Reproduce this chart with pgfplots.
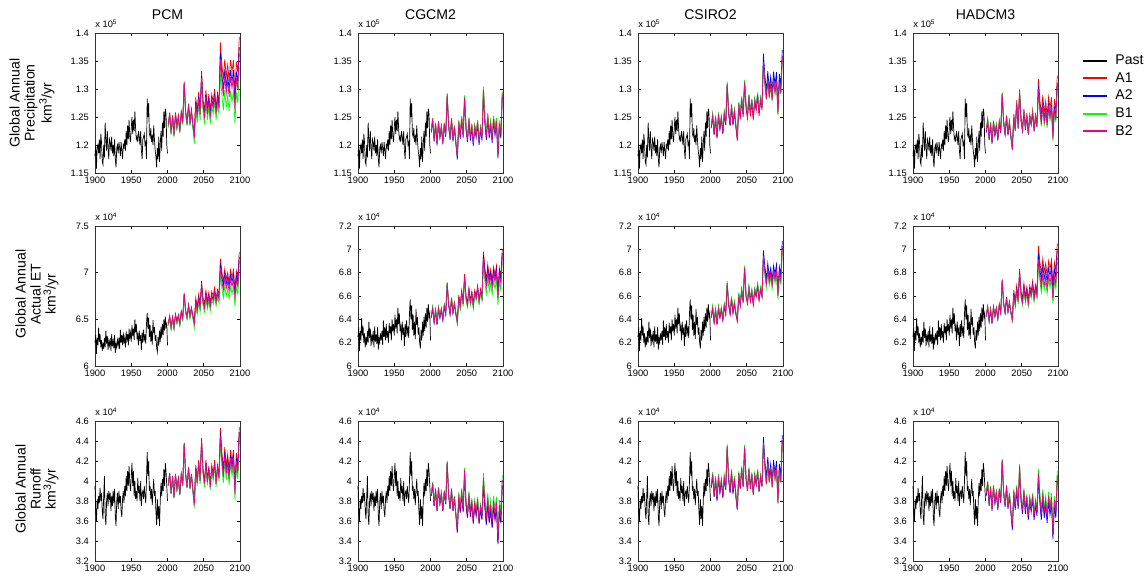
\documentclass[border=0pt]{standalone}
\usepackage{fontspec}
\setmainfont{Liberation Sans}
\usepackage{pgfplots}
\pgfplotsset{compat=1.18}
\usepackage{pgfplotstable}

\newcommand{\tickfont}{\fontsize{5.3}{6}\selectfont}
\newcommand{\titlefont}{\fontsize{8}{9}\selectfont}
\newcommand{\labfont}{\fontsize{8}{8.6}\selectfont}

% past series (same in every column of a row)
\pgfplotstableread{
yr v
1900 1.180
1901 1.200
1902 1.158
1903 1.195
1904 1.200
1905 1.185
1906 1.210
1907 1.175
1908 1.220
1909 1.205
1910 1.170
1911 1.165
1912 1.200
1913 1.178
1914 1.240
1915 1.210
1916 1.190
1917 1.225
1918 1.195
1919 1.175
1920 1.210
1921 1.205
1922 1.190
1923 1.215
1924 1.185
1925 1.200
1926 1.180
1927 1.210
1928 1.175
1929 1.160
1930 1.195
1931 1.200
1932 1.185
1933 1.205
1934 1.195
1935 1.180
1936 1.205
1937 1.190
1938 1.175
1939 1.200
1940 1.195
1941 1.210
1942 1.190
1943 1.225
1944 1.200
1945 1.235
1946 1.210
1947 1.245
1948 1.215
1949 1.205
1950 1.230
1951 1.250
1952 1.220
1953 1.245
1954 1.225
1955 1.260
1956 1.230
1957 1.210
1958 1.215
1959 1.205
1960 1.225
1961 1.215
1962 1.200
1963 1.225
1964 1.190
1965 1.175
1966 1.210
1967 1.215
1968 1.220
1969 1.200
1970 1.205
1971 1.175
1972 1.283
1973 1.250
1974 1.275
1975 1.220
1976 1.215
1977 1.230
1978 1.205
1979 1.215
1980 1.200
1981 1.235
1982 1.210
1983 1.190
1984 1.180
1985 1.160
1986 1.195
1987 1.175
1988 1.215
1989 1.170
1990 1.200
1991 1.225
1992 1.190
1993 1.240
1994 1.215
1995 1.260
1996 1.230
1997 1.265
1998 1.255
1999 1.200
2000 1.185
}\pastP

\pgfplotstableread{
yr v
1900 6.25
1901 6.33
1902 6.13
1903 6.30
1904 6.22
1905 6.41
1906 6.26
1907 6.34
1908 6.20
1909 6.28
1910 6.16
1911 6.25
1912 6.18
1913 6.30
1914 6.20
1915 6.38
1916 6.24
1917 6.32
1918 6.17
1919 6.27
1920 6.22
1921 6.30
1922 6.16
1923 6.34
1924 6.21
1925 6.27
1926 6.19
1927 6.33
1928 6.14
1929 6.24
1930 6.20
1931 6.28
1932 6.22
1933 6.30
1934 6.18
1935 6.39
1936 6.25
1937 6.33
1938 6.22
1939 6.36
1940 6.24
1941 6.30
1942 6.20
1943 6.37
1944 6.28
1945 6.34
1946 6.22
1947 6.40
1948 6.30
1949 6.36
1950 6.26
1951 6.44
1952 6.32
1953 6.40
1954 6.28
1955 6.50
1956 6.36
1957 6.45
1958 6.30
1959 6.34
1960 6.22
1961 6.38
1962 6.27
1963 6.33
1964 6.17
1965 6.36
1966 6.25
1967 6.39
1968 6.28
1969 6.32
1970 6.24
1971 6.45
1972 6.57
1973 6.40
1974 6.52
1975 6.31
1976 6.44
1977 6.26
1978 6.38
1979 6.23
1980 6.49
1981 6.35
1982 6.42
1983 6.27
1984 6.33
1985 6.20
1986 6.15
1987 6.31
1988 6.22
1989 6.38
1990 6.26
1991 6.42
1992 6.30
1993 6.45
1994 6.33
1995 6.50
1996 6.38
1997 6.53
1998 6.42
1999 6.45
2000 6.22
}\pastE

\pgfplotstableread{
yr v
1900 3.95
1901 3.70
1902 3.60
1903 3.82
1904 3.72
1905 3.85
1906 3.78
1907 3.93
1908 3.80
1909 3.88
1910 3.70
1911 3.62
1912 3.85
1913 4.05
1914 3.65
1915 3.56
1916 3.80
1917 3.88
1918 3.75
1919 3.90
1920 3.82
1921 3.88
1922 3.70
1923 3.85
1924 3.75
1925 3.90
1926 3.78
1927 3.92
1928 3.65
1929 3.55
1930 3.80
1931 3.88
1932 3.72
1933 3.90
1934 3.78
1935 3.85
1936 3.70
1937 3.64
1938 3.82
1939 3.90
1940 3.78
1941 3.95
1942 3.85
1943 4.05
1944 3.90
1945 4.10
1946 3.95
1947 4.15
1948 3.98
1949 3.90
1950 4.05
1951 4.18
1952 3.95
1953 4.10
1954 3.85
1955 4.00
1956 3.82
1957 3.90
1958 3.80
1959 4.03
1960 3.88
1961 3.95
1962 3.80
1963 4.00
1964 3.75
1965 3.88
1966 3.90
1967 3.82
1968 3.95
1969 3.85
1970 3.78
1971 4.00
1972 4.29
1973 4.05
1974 4.20
1975 3.90
1976 3.95
1977 3.82
1978 3.92
1979 3.76
1980 3.90
1981 4.02
1982 3.85
1983 3.90
1984 3.70
1985 3.56
1986 3.82
1987 3.62
1988 3.75
1989 3.55
1990 3.80
1991 3.98
1992 3.85
1993 4.02
1994 3.90
1995 4.12
1996 3.95
1997 4.18
1998 4.10
1999 3.95
2000 3.80
}\pastR

% scenario runs, precipitation (x 10^5 km3/yr)
\pgfplotstableread{
yr A1 A2 B1 B2
2001 1.237 1.233 1.231 1.235
2003 1.258 1.254 1.252 1.256
2005 1.224 1.220 1.218 1.222
2007 1.253 1.249 1.247 1.251
2009 1.220 1.216 1.214 1.218
2011 1.258 1.254 1.252 1.256
2013 1.234 1.230 1.228 1.232
2015 1.253 1.249 1.247 1.251
2017 1.227 1.223 1.221 1.225
2019 1.260 1.256 1.254 1.258
2021 1.242 1.238 1.236 1.240
2023 1.313 1.309 1.307 1.311
2025 1.261 1.257 1.255 1.259
2027 1.240 1.236 1.234 1.238
2029 1.274 1.270 1.268 1.272
2031 1.240 1.236 1.234 1.238
2033 1.264 1.260 1.258 1.262
2035 1.237 1.233 1.231 1.235
2037 1.224 1.216 1.202 1.212
2039 1.285 1.277 1.263 1.273
2041 1.261 1.253 1.239 1.249
2043 1.295 1.287 1.273 1.283
2045 1.266 1.258 1.244 1.254
2047 1.332 1.324 1.310 1.320
2049 1.281 1.273 1.259 1.269
2051 1.262 1.254 1.240 1.250
2053 1.298 1.290 1.276 1.286
2055 1.267 1.259 1.245 1.255
2057 1.291 1.283 1.269 1.279
2059 1.260 1.252 1.238 1.248
2061 1.291 1.283 1.269 1.279
2063 1.277 1.269 1.255 1.265
2065 1.300 1.292 1.278 1.288
2067 1.267 1.259 1.245 1.255
2069 1.293 1.285 1.271 1.281
2071 1.277 1.269 1.255 1.265
2073 1.383 1.365 1.328 1.353
2075 1.344 1.326 1.289 1.314
2077 1.317 1.299 1.262 1.287
2079 1.353 1.335 1.298 1.323
2081 1.322 1.304 1.267 1.292
2083 1.343 1.325 1.288 1.313
2085 1.316 1.298 1.261 1.286
2087 1.352 1.334 1.297 1.322
2089 1.331 1.313 1.276 1.301
2091 1.352 1.334 1.297 1.322
2093 1.293 1.275 1.238 1.263
2095 1.349 1.331 1.294 1.319
2097 1.330 1.312 1.275 1.300
2099 1.393 1.375 1.338 1.363
}\futPa

\pgfplotstableread{
yr A1 A2 B1 B2
2001 1.227 1.222 1.226 1.225
2003 1.248 1.243 1.247 1.246
2005 1.211 1.206 1.210 1.209
2007 1.240 1.235 1.239 1.238
2009 1.204 1.199 1.203 1.202
2011 1.243 1.238 1.242 1.241
2013 1.217 1.212 1.216 1.215
2015 1.235 1.230 1.234 1.233
2017 1.206 1.201 1.205 1.204
2019 1.240 1.235 1.239 1.238
2021 1.219 1.214 1.218 1.217
2023 1.292 1.287 1.291 1.290
2025 1.237 1.232 1.236 1.235
2027 1.214 1.209 1.213 1.212
2029 1.248 1.243 1.247 1.246
2031 1.211 1.206 1.210 1.209
2033 1.235 1.230 1.234 1.233
2035 1.206 1.201 1.205 1.204
2037 1.181 1.174 1.181 1.178
2039 1.244 1.237 1.244 1.241
2041 1.218 1.211 1.218 1.215
2043 1.251 1.244 1.251 1.248
2045 1.220 1.213 1.220 1.217
2047 1.288 1.281 1.288 1.285
2049 1.233 1.226 1.233 1.230
2051 1.212 1.205 1.212 1.209
2053 1.249 1.242 1.249 1.246
2055 1.215 1.208 1.215 1.212
2057 1.238 1.231 1.238 1.235
2059 1.205 1.198 1.205 1.202
2061 1.236 1.229 1.236 1.233
2063 1.220 1.213 1.220 1.217
2065 1.244 1.237 1.244 1.241
2067 1.207 1.200 1.207 1.204
2069 1.233 1.226 1.233 1.230
2071 1.215 1.208 1.215 1.212
2073 1.302 1.293 1.304 1.298
2075 1.247 1.238 1.249 1.243
2077 1.218 1.209 1.220 1.214
2079 1.255 1.246 1.257 1.251
2081 1.221 1.212 1.223 1.217
2083 1.242 1.233 1.244 1.238
2085 1.213 1.204 1.215 1.209
2087 1.250 1.241 1.252 1.246
2089 1.226 1.217 1.228 1.222
2091 1.247 1.238 1.249 1.243
2093 1.185 1.176 1.187 1.181
2095 1.242 1.233 1.244 1.238
2097 1.221 1.212 1.223 1.217
2099 1.294 1.285 1.296 1.290
}\futPb

\pgfplotstableread{
yr A1 A2 B1 B2
2001 1.230 1.231 1.236 1.233
2003 1.251 1.252 1.257 1.254
2005 1.218 1.219 1.224 1.221
2007 1.247 1.248 1.253 1.250
2009 1.212 1.213 1.218 1.215
2011 1.252 1.253 1.258 1.255
2013 1.228 1.229 1.234 1.231
2015 1.247 1.248 1.253 1.250
2017 1.220 1.221 1.226 1.223
2019 1.255 1.256 1.261 1.258
2021 1.235 1.236 1.241 1.238
2023 1.307 1.308 1.313 1.310
2025 1.256 1.257 1.262 1.259
2027 1.234 1.235 1.240 1.237
2029 1.268 1.269 1.274 1.271
2031 1.235 1.236 1.241 1.238
2033 1.259 1.260 1.265 1.262
2035 1.232 1.233 1.238 1.235
2037 1.207 1.213 1.215 1.211
2039 1.269 1.275 1.277 1.273
2041 1.245 1.251 1.253 1.249
2043 1.279 1.285 1.287 1.283
2045 1.250 1.256 1.258 1.254
2047 1.308 1.314 1.316 1.312
2049 1.265 1.271 1.273 1.269
2051 1.247 1.253 1.255 1.251
2053 1.283 1.289 1.291 1.287
2055 1.251 1.257 1.259 1.255
2057 1.275 1.281 1.283 1.279
2059 1.244 1.250 1.252 1.248
2061 1.276 1.282 1.284 1.280
2063 1.261 1.267 1.269 1.265
2065 1.286 1.292 1.294 1.290
2067 1.252 1.258 1.260 1.256
2069 1.278 1.284 1.286 1.282
2071 1.262 1.268 1.270 1.266
2073 1.352 1.363 1.346 1.348
2075 1.313 1.324 1.307 1.309
2077 1.286 1.297 1.280 1.282
2079 1.321 1.332 1.315 1.317
2081 1.289 1.300 1.283 1.285
2083 1.311 1.322 1.305 1.307
2085 1.284 1.295 1.278 1.280
2087 1.320 1.331 1.314 1.316
2089 1.297 1.308 1.291 1.293
2091 1.319 1.330 1.313 1.315
2093 1.259 1.270 1.253 1.255
2095 1.316 1.327 1.310 1.312
2097 1.296 1.307 1.290 1.292
2099 1.359 1.370 1.353 1.355
}\futPc

\pgfplotstableread{
yr A1 A2 B1 B2
2001 1.225 1.222 1.227 1.225
2003 1.245 1.242 1.247 1.245
2005 1.212 1.209 1.214 1.212
2007 1.239 1.236 1.241 1.239
2009 1.205 1.202 1.207 1.205
2011 1.242 1.239 1.244 1.242
2013 1.219 1.216 1.221 1.219
2015 1.236 1.233 1.238 1.236
2017 1.211 1.208 1.213 1.211
2019 1.242 1.239 1.244 1.242
2021 1.224 1.221 1.226 1.224
2023 1.292 1.289 1.294 1.292
2025 1.242 1.239 1.244 1.242
2027 1.221 1.218 1.223 1.221
2029 1.252 1.249 1.254 1.252
2031 1.220 1.217 1.222 1.220
2033 1.242 1.239 1.244 1.242
2035 1.216 1.213 1.218 1.216
2037 1.198 1.191 1.194 1.193
2039 1.255 1.248 1.251 1.250
2041 1.232 1.225 1.228 1.227
2043 1.280 1.273 1.276 1.275
2045 1.236 1.229 1.232 1.231
2047 1.299 1.292 1.295 1.294
2049 1.249 1.242 1.245 1.244
2051 1.231 1.224 1.227 1.226
2053 1.265 1.258 1.261 1.260
2055 1.234 1.227 1.230 1.229
2057 1.257 1.250 1.253 1.252
2059 1.225 1.218 1.221 1.220
2061 1.255 1.248 1.251 1.250
2063 1.242 1.235 1.238 1.237
2065 1.263 1.256 1.259 1.258
2067 1.231 1.224 1.227 1.226
2069 1.255 1.248 1.251 1.250
2071 1.239 1.232 1.235 1.234
2073 1.318 1.305 1.296 1.300
2075 1.281 1.268 1.259 1.263
2077 1.255 1.242 1.233 1.237
2079 1.289 1.276 1.267 1.271
2081 1.258 1.245 1.236 1.240
2083 1.278 1.265 1.256 1.260
2085 1.253 1.240 1.231 1.235
2087 1.286 1.273 1.264 1.268
2089 1.266 1.253 1.244 1.248
2091 1.285 1.272 1.263 1.267
2093 1.228 1.215 1.206 1.210
2095 1.282 1.269 1.260 1.264
2097 1.263 1.250 1.241 1.245
2099 1.324 1.311 1.302 1.306
}\futPd

% actual ET (x 10^4 km3/yr)
\pgfplotstableread{
yr A1 A2 B1 B2
2001 6.46 6.44 6.43 6.45
2003 6.54 6.52 6.51 6.53
2005 6.42 6.40 6.39 6.41
2007 6.53 6.51 6.50 6.52
2009 6.42 6.40 6.39 6.41
2011 6.56 6.54 6.53 6.55
2013 6.48 6.46 6.45 6.47
2015 6.55 6.53 6.52 6.54
2017 6.46 6.44 6.43 6.45
2019 6.59 6.57 6.56 6.58
2021 6.52 6.50 6.49 6.51
2023 6.78 6.76 6.75 6.77
2025 6.60 6.58 6.57 6.59
2027 6.53 6.51 6.50 6.52
2029 6.66 6.64 6.63 6.65
2031 6.54 6.52 6.51 6.53
2033 6.63 6.61 6.60 6.62
2035 6.54 6.52 6.51 6.53
2037 6.50 6.46 6.41 6.45
2039 6.73 6.69 6.64 6.68
2041 6.64 6.60 6.55 6.59
2043 6.77 6.73 6.68 6.72
2045 6.67 6.63 6.58 6.62
2047 6.91 6.87 6.82 6.86
2049 6.73 6.69 6.64 6.68
2051 6.67 6.63 6.58 6.62
2053 6.81 6.77 6.72 6.76
2055 6.70 6.66 6.61 6.65
2057 6.79 6.75 6.70 6.74
2059 6.68 6.64 6.59 6.63
2061 6.80 6.76 6.71 6.75
2063 6.75 6.71 6.66 6.70
2065 6.84 6.80 6.75 6.79
2067 6.73 6.69 6.64 6.68
2069 6.82 6.78 6.73 6.77
2071 6.77 6.73 6.68 6.72
2073 7.15 7.10 6.97 7.05
2075 7.01 6.96 6.83 6.91
2077 6.91 6.86 6.73 6.81
2079 7.04 6.99 6.86 6.94
2081 6.93 6.88 6.75 6.83
2083 7.00 6.95 6.82 6.90
2085 6.90 6.85 6.72 6.80
2087 7.03 6.98 6.85 6.93
2089 6.95 6.90 6.77 6.85
2091 7.03 6.98 6.85 6.93
2093 6.82 6.77 6.64 6.72
2095 7.02 6.97 6.84 6.92
2097 6.95 6.90 6.77 6.85
2099 7.22 7.17 7.04 7.12
}\futEa

\pgfplotstableread{
yr A1 A2 B1 B2
2001 6.42 6.41 6.43 6.42
2003 6.50 6.49 6.51 6.50
2005 6.38 6.37 6.39 6.38
2007 6.48 6.47 6.49 6.48
2009 6.36 6.35 6.37 6.36
2011 6.50 6.49 6.51 6.50
2013 6.42 6.41 6.43 6.42
2015 6.49 6.48 6.50 6.49
2017 6.40 6.39 6.41 6.40
2019 6.52 6.51 6.53 6.52
2021 6.45 6.44 6.46 6.45
2023 6.71 6.70 6.72 6.71
2025 6.53 6.52 6.54 6.53
2027 6.45 6.44 6.46 6.45
2029 6.58 6.57 6.59 6.58
2031 6.46 6.45 6.47 6.46
2033 6.54 6.53 6.55 6.54
2035 6.45 6.44 6.46 6.45
2037 6.39 6.37 6.35 6.37
2039 6.61 6.59 6.57 6.59
2041 6.52 6.50 6.48 6.50
2043 6.65 6.63 6.61 6.63
2045 6.55 6.53 6.51 6.53
2047 6.79 6.77 6.75 6.77
2049 6.60 6.58 6.56 6.58
2051 6.54 6.52 6.50 6.52
2053 6.67 6.65 6.63 6.65
2055 6.56 6.54 6.52 6.54
2057 6.64 6.62 6.60 6.62
2059 6.53 6.51 6.49 6.51
2061 6.65 6.63 6.61 6.63
2063 6.60 6.58 6.56 6.58
2065 6.69 6.67 6.65 6.67
2067 6.57 6.55 6.53 6.55
2069 6.66 6.64 6.62 6.64
2071 6.60 6.58 6.56 6.58
2073 6.98 6.95 6.86 6.92
2075 6.84 6.81 6.72 6.78
2077 6.74 6.71 6.62 6.68
2079 6.87 6.84 6.75 6.81
2081 6.76 6.73 6.64 6.70
2083 6.83 6.80 6.71 6.77
2085 6.73 6.70 6.61 6.67
2087 6.85 6.82 6.73 6.79
2089 6.78 6.75 6.66 6.72
2091 6.86 6.83 6.74 6.80
2093 6.64 6.61 6.52 6.58
2095 6.84 6.81 6.72 6.78
2097 6.77 6.74 6.65 6.71
2099 7.00 6.97 6.88 6.94
}\futEb

\pgfplotstableread{
yr A1 A2 B1 B2
2001 6.41 6.42 6.44 6.42
2003 6.49 6.50 6.52 6.50
2005 6.37 6.38 6.40 6.38
2007 6.47 6.48 6.50 6.48
2009 6.35 6.36 6.38 6.36
2011 6.49 6.50 6.52 6.50
2013 6.41 6.42 6.44 6.42
2015 6.48 6.49 6.51 6.49
2017 6.39 6.40 6.42 6.40
2019 6.51 6.52 6.54 6.52
2021 6.44 6.45 6.47 6.45
2023 6.70 6.71 6.73 6.71
2025 6.52 6.53 6.55 6.53
2027 6.44 6.45 6.47 6.45
2029 6.57 6.58 6.60 6.58
2031 6.45 6.46 6.48 6.46
2033 6.53 6.54 6.56 6.54
2035 6.44 6.45 6.47 6.45
2037 6.38 6.40 6.41 6.39
2039 6.60 6.62 6.63 6.61
2041 6.51 6.53 6.54 6.52
2043 6.64 6.66 6.67 6.65
2045 6.54 6.56 6.57 6.55
2047 6.83 6.85 6.86 6.84
2049 6.59 6.61 6.62 6.60
2051 6.53 6.55 6.56 6.54
2053 6.66 6.68 6.69 6.67
2055 6.55 6.57 6.58 6.56
2057 6.63 6.65 6.66 6.64
2059 6.52 6.54 6.55 6.53
2061 6.64 6.66 6.67 6.65
2063 6.59 6.61 6.62 6.60
2065 6.68 6.70 6.71 6.69
2067 6.56 6.58 6.59 6.57
2069 6.65 6.67 6.68 6.66
2071 6.59 6.61 6.62 6.60
2073 6.95 6.99 6.91 6.94
2075 6.81 6.85 6.77 6.80
2077 6.71 6.75 6.67 6.70
2079 6.84 6.88 6.80 6.83
2081 6.73 6.77 6.69 6.72
2083 6.80 6.84 6.76 6.79
2085 6.70 6.74 6.66 6.69
2087 6.82 6.86 6.78 6.81
2089 6.75 6.79 6.71 6.74
2091 6.83 6.87 6.79 6.82
2093 6.61 6.65 6.57 6.60
2095 6.81 6.85 6.77 6.80
2097 6.74 6.78 6.70 6.73
2099 7.03 7.07 6.99 7.02
}\futEc

\pgfplotstableread{
yr A1 A2 B1 B2
2001 6.43 6.42 6.43 6.43
2003 6.51 6.50 6.51 6.51
2005 6.39 6.38 6.39 6.39
2007 6.49 6.48 6.49 6.49
2009 6.37 6.36 6.37 6.37
2011 6.51 6.50 6.51 6.51
2013 6.43 6.42 6.43 6.43
2015 6.50 6.49 6.50 6.50
2017 6.41 6.40 6.41 6.41
2019 6.53 6.52 6.53 6.53
2021 6.46 6.45 6.46 6.46
2023 6.74 6.73 6.74 6.74
2025 6.54 6.53 6.54 6.54
2027 6.46 6.45 6.46 6.46
2029 6.59 6.58 6.59 6.59
2031 6.47 6.46 6.47 6.47
2033 6.55 6.54 6.55 6.55
2035 6.46 6.45 6.46 6.46
2037 6.43 6.40 6.37 6.39
2039 6.65 6.62 6.59 6.61
2041 6.56 6.53 6.50 6.52
2043 6.69 6.66 6.63 6.65
2045 6.59 6.56 6.53 6.55
2047 6.83 6.80 6.77 6.79
2049 6.64 6.61 6.58 6.60
2051 6.58 6.55 6.52 6.54
2053 6.71 6.68 6.65 6.67
2055 6.60 6.57 6.54 6.56
2057 6.68 6.65 6.62 6.64
2059 6.57 6.54 6.51 6.53
2061 6.69 6.66 6.63 6.65
2063 6.64 6.61 6.58 6.60
2065 6.73 6.70 6.67 6.69
2067 6.61 6.58 6.55 6.57
2069 6.70 6.67 6.64 6.66
2071 6.64 6.61 6.58 6.60
2073 7.03 6.97 6.87 6.91
2075 6.89 6.83 6.73 6.77
2077 6.79 6.73 6.63 6.67
2079 6.92 6.86 6.76 6.80
2081 6.81 6.75 6.65 6.69
2083 6.88 6.82 6.72 6.76
2085 6.78 6.72 6.62 6.66
2087 6.90 6.84 6.74 6.78
2089 6.83 6.77 6.67 6.71
2091 6.91 6.85 6.75 6.79
2093 6.69 6.63 6.53 6.57
2095 6.89 6.83 6.73 6.77
2097 6.82 6.76 6.66 6.70
2099 7.05 6.99 6.89 6.93
}\futEd

% runoff (x 10^4 km3/yr)
\pgfplotstableread{
yr A1 A2 B1 B2
2001 3.96 3.95 3.95 3.96
2003 4.08 4.07 4.07 4.08
2005 3.88 3.87 3.87 3.88
2007 4.05 4.04 4.04 4.05
2009 3.84 3.83 3.83 3.84
2011 4.07 4.06 4.06 4.07
2013 3.92 3.91 3.91 3.92
2015 4.03 4.02 4.02 4.03
2017 3.87 3.86 3.86 3.87
2019 4.07 4.06 4.06 4.07
2021 3.96 3.95 3.95 3.96
2023 4.38 4.37 4.37 4.38
2025 4.07 4.06 4.06 4.07
2027 3.94 3.93 3.93 3.94
2029 4.14 4.13 4.13 4.14
2031 3.93 3.92 3.92 3.93
2033 4.07 4.06 4.06 4.07
2035 3.91 3.90 3.90 3.91
2037 3.79 3.76 3.73 3.76
2039 4.16 4.13 4.10 4.13
2041 4.01 3.98 3.95 3.98
2043 4.21 4.18 4.15 4.18
2045 4.03 4.00 3.97 4.00
2047 4.43 4.40 4.37 4.40
2049 4.12 4.09 4.06 4.09
2051 4.00 3.97 3.94 3.97
2053 4.21 4.18 4.15 4.18
2055 4.02 3.99 3.96 3.99
2057 4.15 4.12 4.09 4.12
2059 3.97 3.94 3.91 3.94
2061 4.16 4.13 4.10 4.13
2063 4.07 4.04 4.01 4.04
2065 4.21 4.18 4.15 4.18
2067 4.00 3.97 3.94 3.97
2069 4.16 4.13 4.10 4.13
2071 4.06 4.03 4.00 4.03
2073 4.53 4.48 4.39 4.45
2075 4.29 4.24 4.15 4.21
2077 4.12 4.07 3.98 4.04
2079 4.34 4.29 4.20 4.26
2081 4.15 4.10 4.01 4.07
2083 4.27 4.22 4.13 4.19
2085 4.10 4.05 3.96 4.02
2087 4.31 4.26 4.17 4.23
2089 4.19 4.14 4.05 4.11
2091 4.31 4.26 4.17 4.23
2093 3.95 3.90 3.81 3.87
2095 4.28 4.23 4.14 4.20
2097 4.16 4.11 4.02 4.08
2099 4.54 4.49 4.40 4.46
}\futRa

\pgfplotstableread{
yr A1 A2 B1 B2
2001 3.85 3.85 3.87 3.86
2003 3.97 3.97 3.99 3.98
2005 3.75 3.75 3.77 3.76
2007 3.91 3.91 3.93 3.92
2009 3.70 3.70 3.72 3.71
2011 3.92 3.92 3.94 3.93
2013 3.77 3.77 3.79 3.78
2015 3.87 3.87 3.89 3.88
2017 3.70 3.70 3.72 3.71
2019 3.89 3.89 3.91 3.90
2021 3.77 3.77 3.79 3.78
2023 4.18 4.18 4.20 4.19
2025 3.86 3.86 3.88 3.87
2027 3.72 3.72 3.74 3.73
2029 3.91 3.91 3.93 3.92
2031 3.70 3.70 3.72 3.71
2033 3.83 3.83 3.85 3.84
2035 3.66 3.66 3.68 3.67
2037 3.48 3.49 3.54 3.52
2039 3.83 3.84 3.89 3.87
2041 3.68 3.69 3.74 3.72
2043 3.87 3.88 3.93 3.91
2045 3.69 3.70 3.75 3.73
2047 4.07 4.08 4.13 4.11
2049 3.75 3.76 3.81 3.79
2051 3.63 3.64 3.69 3.67
2053 3.84 3.85 3.90 3.88
2055 3.64 3.65 3.70 3.68
2057 3.77 3.78 3.83 3.81
2059 3.57 3.58 3.63 3.61
2061 3.75 3.76 3.81 3.79
2063 3.65 3.66 3.71 3.69
2065 3.78 3.79 3.84 3.82
2067 3.57 3.58 3.63 3.61
2069 3.71 3.72 3.77 3.75
2071 3.61 3.62 3.67 3.65
2073 3.97 3.98 4.08 4.03
2075 3.73 3.74 3.84 3.79
2077 3.56 3.57 3.67 3.62
2079 3.77 3.78 3.88 3.83
2081 3.58 3.59 3.69 3.64
2083 3.70 3.71 3.81 3.76
2085 3.53 3.54 3.64 3.59
2087 3.74 3.75 3.85 3.80
2089 3.61 3.62 3.72 3.67
2091 3.73 3.74 3.84 3.79
2093 3.37 3.38 3.48 3.43
2095 3.70 3.71 3.81 3.76
2097 3.58 3.59 3.69 3.64
2099 3.95 3.96 4.06 4.01
}\futRb

\pgfplotstableread{
yr A1 A2 B1 B2
2001 3.94 3.93 3.97 3.95
2003 4.06 4.05 4.09 4.07
2005 3.85 3.84 3.88 3.86
2007 4.02 4.01 4.05 4.03
2009 3.81 3.80 3.84 3.82
2011 4.04 4.03 4.07 4.05
2013 3.89 3.88 3.92 3.90
2015 4.00 3.99 4.03 4.01
2017 3.84 3.83 3.87 3.85
2019 4.03 4.02 4.06 4.04
2021 3.92 3.91 3.95 3.93
2023 4.34 4.33 4.37 4.35
2025 4.02 4.01 4.05 4.03
2027 3.89 3.88 3.92 3.90
2029 4.09 4.08 4.12 4.10
2031 3.88 3.87 3.91 3.89
2033 4.02 4.01 4.05 4.03
2035 3.85 3.84 3.88 3.86
2037 3.71 3.72 3.74 3.72
2039 4.07 4.08 4.10 4.08
2041 3.92 3.93 3.95 3.93
2043 4.12 4.13 4.15 4.13
2045 3.94 3.95 3.97 3.95
2047 4.33 4.34 4.36 4.34
2049 4.02 4.03 4.05 4.03
2051 3.90 3.91 3.93 3.91
2053 4.11 4.12 4.14 4.12
2055 3.92 3.93 3.95 3.93
2057 4.06 4.07 4.09 4.07
2059 3.86 3.87 3.89 3.87
2061 4.05 4.06 4.08 4.06
2063 3.96 3.97 3.99 3.97
2065 4.09 4.10 4.12 4.10
2067 3.89 3.90 3.92 3.90
2069 4.04 4.05 4.07 4.05
2071 3.94 3.95 3.97 3.95
2073 4.39 4.44 4.37 4.38
2075 4.15 4.20 4.13 4.14
2077 3.98 4.03 3.96 3.97
2079 4.19 4.24 4.17 4.18
2081 4.00 4.05 3.98 3.99
2083 4.12 4.17 4.10 4.11
2085 3.95 4.00 3.93 3.94
2087 4.16 4.21 4.14 4.15
2089 4.03 4.08 4.01 4.02
2091 4.15 4.20 4.13 4.14
2093 3.79 3.84 3.77 3.78
2095 4.12 4.17 4.10 4.11
2097 4.00 4.05 3.98 3.99
2099 4.41 4.46 4.39 4.40
}\futRc

\pgfplotstableread{
yr A1 A2 B1 B2
2001 3.87 3.85 3.88 3.87
2003 3.99 3.97 4.00 3.99
2005 3.77 3.75 3.78 3.77
2007 3.94 3.92 3.95 3.94
2009 3.72 3.70 3.73 3.72
2011 3.95 3.93 3.96 3.95
2013 3.79 3.77 3.80 3.79
2015 3.89 3.87 3.90 3.89
2017 3.73 3.71 3.74 3.73
2019 3.92 3.90 3.93 3.92
2021 3.80 3.78 3.81 3.80
2023 4.21 4.19 4.22 4.21
2025 3.89 3.87 3.90 3.89
2027 3.76 3.74 3.77 3.76
2029 3.95 3.93 3.96 3.95
2031 3.74 3.72 3.75 3.74
2033 3.87 3.85 3.88 3.87
2035 3.70 3.68 3.71 3.70
2037 3.54 3.51 3.57 3.55
2039 3.89 3.86 3.92 3.90
2041 3.74 3.71 3.77 3.75
2043 3.93 3.90 3.96 3.94
2045 3.75 3.72 3.78 3.76
2047 4.14 4.11 4.17 4.15
2049 3.82 3.79 3.85 3.83
2051 3.70 3.67 3.73 3.71
2053 3.90 3.87 3.93 3.91
2055 3.70 3.67 3.73 3.71
2057 3.84 3.81 3.87 3.85
2059 3.64 3.61 3.67 3.65
2061 3.82 3.79 3.85 3.83
2063 3.72 3.69 3.75 3.73
2065 3.85 3.82 3.88 3.86
2067 3.64 3.61 3.67 3.65
2069 3.79 3.76 3.82 3.80
2071 3.68 3.65 3.71 3.69
2073 4.06 4.02 4.12 4.08
2075 3.82 3.78 3.88 3.84
2077 3.65 3.61 3.71 3.67
2079 3.86 3.82 3.92 3.88
2081 3.67 3.63 3.73 3.69
2083 3.79 3.75 3.85 3.81
2085 3.62 3.58 3.68 3.64
2087 3.83 3.79 3.89 3.85
2089 3.70 3.66 3.76 3.72
2091 3.82 3.78 3.88 3.84
2093 3.46 3.42 3.52 3.48
2095 3.79 3.75 3.85 3.81
2097 3.67 3.63 3.73 3.69
2099 4.04 4.00 4.10 4.06
}\futRd

\pgfplotsset{
  panel/.style={
    scale only axis, width=2.9cm, height=2.8cm, anchor=south west,
    xmin=1900, xmax=2100, xtick={1900,1950,2000,2050,2100},
    clip=false,
    tick align=inside, major tick length=0.06cm,
    tick style={black, line width=0.4pt},
    axis line style={black!80, line width=0.5pt},
    ticklabel style={font=\tickfont},
    /pgf/number format/assume math mode=true,
    /pgf/number format/1000 sep={},
    scaled ticks=false,
    xticklabel style={yshift=1pt},
    every axis plot/.append style={line width=0.4pt, mark=none},
  },
  prow/.style={ymin=1.15, ymax=1.4, ytick={1.15,1.2,1.25,1.3,1.35,1.4}},
  erowa/.style={ymin=6, ymax=7.5, ytick={6,6.5,7,7.5}},
  erow/.style={ymin=6, ymax=7.2, ytick={6,6.2,6.4,6.6,6.8,7,7.2}},
  rrow/.style={ymin=3.2, ymax=4.6, ytick={3.2,3.4,3.6,3.8,4,4.2,4.4,4.6}},
}

% #1 x, #2 y, #3 past table, #4 scenario table, #5 row style, #6 exponent, #7 extra
\newcommand{\panel}[7]{%
  \begin{axis}[panel, at={(#1,#2)}, #5]
    \addplot[black] table[x=yr, y=v] {#3};
    \addplot[red] table[x=yr, y=A1] {#4};
    \addplot[blue] table[x=yr, y=A2] {#4};
    \addplot[green] table[x=yr, y=B1] {#4};
    \addplot[magenta] table[x=yr, y=B2] {#4};
    \node[font=\tickfont, anchor=base west, inner sep=0pt] at (rel axis cs:0,1) [yshift=0.1cm] {x 10\textsuperscript{#6}};
    #7
  \end{axis}}

\begin{document}
\begin{tikzpicture}
\useasboundingbox (0,0) rectangle (22.92cm,11.52cm);

\panel{1.90cm}{8.06cm}{\pastP}{\futPa}{prow}{5}{\node[font=\titlefont] at (rel axis cs:0.5,1) [yshift=0.36cm] {PCM};}
\panel{7.16cm}{8.06cm}{\pastP}{\futPb}{prow}{5}{\node[font=\titlefont] at (rel axis cs:0.5,1) [yshift=0.36cm] {CGCM2};}
\panel{12.76cm}{8.06cm}{\pastP}{\futPc}{prow}{5}{\node[font=\titlefont] at (rel axis cs:0.5,1) [yshift=0.36cm] {CSIRO2};}
\panel{18.26cm}{8.06cm}{\pastP}{\futPd}{prow,
    legend style={draw=none, fill=none, at={(axis description cs:1.16,0.55)}, anchor=west,
      inner sep=0pt, legend cell align=left, row sep=0.5pt,
      /tikz/every odd column/.append style={column sep=0.12cm},
      nodes={inner sep=1pt, text height=6pt, text depth=1.5pt, font=\titlefont}},
    legend image code/.code={\draw[#1, line width=1.2pt] (0cm,0cm) -- (0.48cm,0cm);}}{5}{%
  \node[font=\titlefont] at (rel axis cs:0.5,1) [yshift=0.36cm] {HADCM3};
  \legend{Past,A1,A2,B1,B2}}

\panel{1.90cm}{4.20cm}{\pastE}{\futEa}{erowa}{4}{}
\panel{7.16cm}{4.20cm}{\pastE}{\futEb}{erow}{4}{}
\panel{12.76cm}{4.20cm}{\pastE}{\futEc}{erow}{4}{}
\panel{18.26cm}{4.20cm}{\pastE}{\futEd}{erow}{4}{}

\panel{1.90cm}{0.30cm}{\pastR}{\futRa}{rrow}{4}{}
\panel{7.16cm}{0.30cm}{\pastR}{\futRb}{rrow}{4}{}
\panel{12.76cm}{0.30cm}{\pastR}{\futRc}{rrow}{4}{}
\panel{18.26cm}{0.30cm}{\pastR}{\futRd}{rrow}{4}{}

\node[rotate=90, align=center, font=\labfont] at (0.64cm,9.46cm) {Global Annual\\Precipitation\\km\textsuperscript{3}/yr};
\node[rotate=90, align=center, font=\labfont] at (0.74cm,5.64cm) {Global Annual\\Actual ET\\km\textsuperscript{3}/yr};
\node[rotate=90, align=center, font=\labfont] at (0.74cm,1.74cm) {Global Annual\\Runoff\\km\textsuperscript{3}/yr};
\end{tikzpicture}
\end{document}
